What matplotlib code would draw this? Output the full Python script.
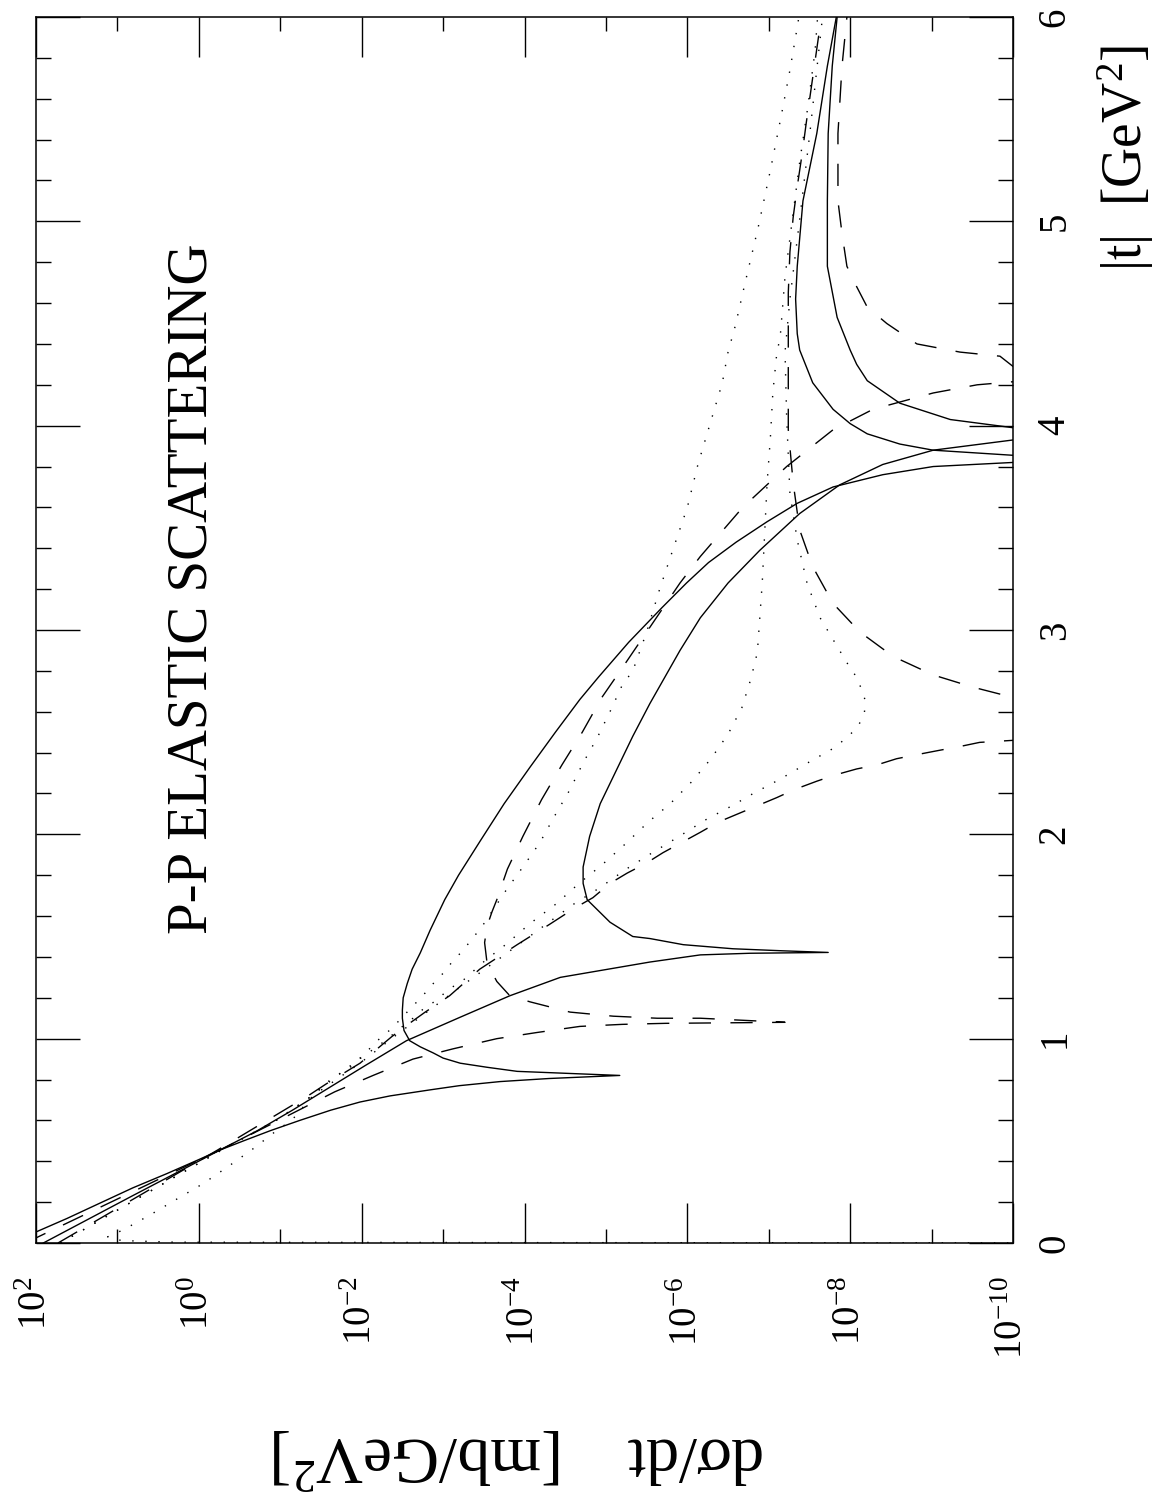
import matplotlib
matplotlib.use("Agg")
import matplotlib.pyplot as plt
import numpy as np
from matplotlib.ticker import FixedLocator, FixedFormatter

plt.rcParams['font.family'] = ['Liberation Serif', 'DejaVu Serif']
plt.rcParams['mathtext.fontset'] = 'custom'
plt.rcParams['mathtext.rm'] = 'Liberation Serif'
plt.rcParams['mathtext.it'] = 'Liberation Serif:italic'
plt.rcParams['lines.scale_dashes'] = False

# curves: |t| [GeV^2] and log10(dsigma/dt [mb/GeV^2])
s1_t = [0.0, 0.054, 0.12, 0.196, 0.27, 0.34, 0.41, 0.455, 0.50, 0.55, 0.60, 0.65, 0.69, 0.72, 0.75, 0.77, 0.79, 0.805,
        0.82, 0.84, 0.86, 0.88, 0.905, 0.93, 0.96, 0.99, 1.04, 1.10, 1.14, 1.20, 1.27, 1.34, 1.42, 1.53, 1.68, 1.80,
        1.97, 2.15, 2.33, 2.50, 2.66, 2.77, 2.94, 3.11, 3.23, 3.33, 3.43, 3.53, 3.62, 3.70, 3.76, 3.80, 3.82, 3.835,
        3.845, 3.855, 3.88, 3.91, 3.96, 4.01, 4.08, 4.21, 4.37, 4.45, 4.62, 4.78, 5.10, 5.43, 5.76, 6.0]
s1_lg = [2.30, 2.0, 1.62, 1.21, 0.81, 0.39, -0.01, -0.26, -0.55, -0.88, -1.24, -1.62, -1.98, -2.35, -2.85, -3.20, -3.70,
         -4.30, -5.17, -3.91, -3.54, -3.21, -3.00, -2.88, -2.72, -2.59, -2.52, -2.50, -2.50, -2.51, -2.56, -2.62, -2.72,
         -2.84, -3.02, -3.19, -3.46, -3.75, -4.07, -4.38, -4.68, -4.91, -5.28, -5.69, -5.99, -6.26, -6.60, -6.98, -7.35,
         -7.79, -8.40, -9.02, -10.0, -11.5,
         -11.5, -10.0, -9.02, -8.61, -8.21, -8.00, -7.79, -7.54, -7.38, -7.35, -7.33, -7.35, -7.42, -7.59, -7.72, -7.83]

s2_t = [0.0, 0.23, 0.455, 0.55, 0.65, 0.76, 0.87, 0.99, 1.105, 1.21, 1.30, 1.375, 1.41, 1.418, 1.422,
        1.43, 1.44, 1.46, 1.49, 1.50, 1.57, 1.68, 1.76, 1.84, 1.99, 2.15, 2.48, 2.64, 2.90, 3.06, 3.23, 3.39, 3.57,
        3.71, 3.81, 3.88, 3.93, 3.95,
        3.97, 3.99, 4.03, 4.11, 4.22, 4.30, 4.37, 4.53, 4.78, 5.10, 5.43, 5.76, 6.0]
s2_lg = [1.91, 0.82, -0.26, -0.72, -1.15, -1.60, -2.05, -2.55, -3.21, -3.82, -4.44, -5.54, -6.16, -6.77, -7.73,
         -7.17, -6.56, -5.95, -5.54, -5.33, -5.05, -4.77, -4.72, -4.72, -4.80, -4.93, -5.33, -5.54, -5.91, -6.16, -6.50,
         -6.89, -7.38, -7.87, -8.40, -9.02, -10.0, -11.5,
         -11.5, -10.0, -9.23, -8.61, -8.21, -8.08, -8.00, -7.84, -7.72, -7.72, -7.73, -7.78, -7.84]

d1_t = [0.0, 0.455, 0.72, 0.78, 0.88, 1.01, 1.07, 1.13, 1.21, 1.34, 1.46, 1.56, 1.64, 1.69, 1.76, 1.81, 1.86, 1.91,
        1.96, 2.01, 2.06, 2.10, 2.14, 2.18, 2.22, 2.26, 2.29, 2.32, 2.34, 2.37, 2.39, 2.41, 2.43, 2.45, 2.46, 2.50,
        2.62, 2.67, 2.72, 2.78, 2.87, 2.99, 3.13, 3.31, 3.49, 3.72, 3.98, 4.37, 4.65, 4.85, 5.02, 5.17, 5.33, 5.48,
        5.62, 5.76, 5.90, 6.0]
d1_lg = [1.73, -0.23, -1.34, -1.57, -1.98, -2.37, -2.57, -2.78, -3.08, -3.45, -3.91, -4.31, -4.62, -4.84, -5.05, -5.26,
         -5.50, -5.70, -5.93, -6.16, -6.38, -6.62, -6.86, -7.10, -7.32, -7.59, -7.81, -8.08, -8.33, -8.57, -8.82, -9.08,
         -9.35, -9.59, -10.0, -11.5, -11.5, -10.0, -9.51, -9.02, -8.53, -8.12, -7.79, -7.54, -7.38, -7.30, -7.24, -7.24,
         -7.24, -7.26, -7.30, -7.35, -7.41, -7.46, -7.51, -7.56, -7.61, -7.66]

d2_t = [0.0, 0.025, 0.455, 0.60, 0.74, 0.82, 0.90, 0.95, 1.00, 1.03, 1.06, 1.07, 1.075, 1.08, 1.10, 1.10, 1.11, 1.13,
        1.18, 1.21, 1.28, 1.37, 1.47, 1.55, 1.62, 1.68, 1.83, 1.99, 2.17, 2.34, 2.50, 2.67, 2.82, 2.99, 3.23, 3.36,
        3.60, 3.80, 3.98, 4.08, 4.16, 4.20, 4.215, 4.24, 4.27, 4.29, 4.34, 4.36, 4.40, 4.50, 4.58, 4.68, 4.78, 4.94,
        5.10, 5.43, 5.76, 6.0]
d2_lg = [2.13, 2.0, -0.26, -0.98, -1.67, -2.14, -2.63, -3.12, -3.66, -4.15, -4.68, -5.20, -5.73, -7.20, -6.16, -5.63,
         -5.09, -4.56, -4.07, -3.82, -3.66, -3.54, -3.51, -3.54, -3.60, -3.66, -3.79, -3.98, -4.21, -4.46, -4.71, -4.95,
         -5.21, -5.50, -5.91, -6.16, -6.68, -7.22, -7.79, -8.28, -9.02, -9.56, -10.0, -11.5, -11.5, -10.0, -9.84, -9.35,
         -8.82, -8.45, -8.21, -8.08, -7.96, -7.90, -7.85, -7.85, -7.90, -7.96]

dta_t = [0.0, 0.455, 0.60, 0.72, 0.78, 0.82, 0.86, 0.92, 1.00, 1.05, 1.11, 1.16, 1.21, 1.27, 1.32, 1.38, 1.43, 1.49,
         1.55, 1.61, 1.73, 1.84, 1.96, 2.09, 2.22, 2.35, 2.47, 2.60, 2.73, 2.80, 2.99, 3.20, 3.39, 3.60, 3.81, 4.01,
         4.21, 4.36, 4.49, 4.70, 4.97, 5.25, 5.53, 5.74, 5.95, 6.0]
dta_lg = [1.70, -0.28, -0.95, -1.39, -1.55, -1.70, -1.86, -2.02, -2.22, -2.37, -2.51, -2.63, -2.75, -2.88, -3.00, -3.12,
          -3.24, -3.36, -3.48, -3.58, -3.78, -3.98, -4.19, -4.37, -4.56, -4.72, -4.89, -5.05, -5.20, -5.33, -5.50, -5.66,
          -5.82, -6.00, -6.13, -6.28, -6.43, -6.50, -6.59, -6.71, -6.87, -7.02, -7.16, -7.26, -7.35, -7.37]

dtb_t = [0.0, 0.455, 0.60, 0.72, 0.82, 0.92, 0.96, 1.01, 1.05, 1.10, 1.15, 1.19, 1.24, 1.28, 1.33, 1.38, 1.43, 1.47,
         1.52, 1.57, 1.66, 1.76, 1.85, 1.95, 2.06, 2.15, 2.26, 2.37, 2.49, 2.62, 2.76, 2.89, 3.23, 3.72, 3.94, 4.16,
         4.36, 4.43, 4.73, 5.01, 5.29, 5.56, 5.84, 6.0]
dtb_lg = [1.70, -0.28, -0.95, -1.39, -1.70, -2.04, -2.19, -2.35, -2.47, -2.63, -2.77, -2.93, -3.06, -3.23, -3.37, -3.51,
          -3.67, -3.80, -3.94, -4.09, -4.39, -4.67, -4.95, -5.23, -5.52, -5.79, -6.06, -6.29, -6.50, -6.67, -6.78, -6.86,
          -6.92, -6.98, -7.02, -7.05, -7.10, -7.14, -7.20, -7.29, -7.38, -7.48, -7.57, -7.60]

dtc_t = [0.0, 0.002, 0.004, 0.012, 0.03, 0.064, 0.137, 0.215, 0.29, 0.377, 0.465, 0.558, 0.60, 0.72, 0.88, 1.01, 1.13,
         1.25, 1.40, 1.57, 1.66, 1.74, 1.83, 1.91, 1.99, 2.07, 2.14, 2.20, 2.27, 2.35, 2.42, 2.47, 2.52, 2.58, 2.65,
         2.72, 2.78, 2.84, 2.90, 3.06, 3.23, 3.44, 3.67, 4.04, 4.36, 4.62, 5.01, 5.45, 5.89, 6.0]
dtc_lg = [-12.0, -4.0, 0.3, 0.95, 1.12, 0.93, 0.60, 0.27, -0.05, -0.37, -0.68, -0.98, -1.14, -1.40, -1.98, -2.40, -2.80,
          -3.20, -3.72, -4.30, -4.61, -4.93, -5.25, -5.57, -5.90, -6.22, -6.55, -6.81, -7.14, -7.48, -7.79, -7.95, -8.08,
          -8.17, -8.19, -8.13, -8.06, -7.96, -7.87, -7.63, -7.47, -7.35, -7.26, -7.22, -7.20, -7.26, -7.38, -7.51, -7.63,
          -7.66]

sig_ticks = [2, 0, -2, -4, -6, -8, -10]
t_ticks = [0, 1, 2, 3, 4, 5, 6]

SOLID = '-'
DASHED = (0, (16, 14))
DOTTED = (0, (1.0, 8.4))

curves = [
    (s1_t, s1_lg, SOLID), (s2_t, s2_lg, SOLID),
    (d1_t, d1_lg, DASHED), (d2_t, d2_lg, DASHED),
    (dta_t, dta_lg, DOTTED), (dtb_t, dtb_lg, DOTTED), (dtc_t, dtc_lg, DOTTED),
]

W, H = 1164, 1502
fig = plt.figure(figsize=(W / 100, H / 100), dpi=100)
ax = fig.add_axes([36 / W, 1 - 1243 / H, (1013 - 36) / W, (1243 - 17) / H])

for t, lg, ls in curves:
    ax.plot(10.0 ** np.array(lg), t, color='black', lw=1.0, linestyle=ls)

ax.set_xscale('log')
ax.set_xlim(1e2, 1e-10)
ax.set_ylim(0, 6)

ax.xaxis.set_major_locator(FixedLocator([10.0 ** k for k in sig_ticks]))
ax.xaxis.set_minor_locator(FixedLocator([10.0 ** (k - 1) for k in sig_ticks[:-1]]))
ax.xaxis.set_major_formatter(FixedFormatter(['$10^{%d}$' % k for k in sig_ticks]))
ax.xaxis.set_minor_formatter(FixedFormatter([]))
ax.yaxis.set_major_locator(FixedLocator(t_ticks))
ax.yaxis.set_minor_locator(FixedLocator(np.arange(0, 6.01, 0.2)))
ax.yaxis.set_major_formatter(FixedFormatter([str(v) for v in t_ticks]))

ax.tick_params(axis='x', which='major', direction='in', length=28.8, width=1.0,
               top=True, bottom=True, labelsize=28, pad=24, labelrotation=90)
ax.tick_params(axis='x', which='minor', direction='in', length=10, width=1.0, top=True, bottom=True)
ax.tick_params(axis='y', which='major', direction='in', length=31.7, width=1.0, left=True, right=True,
               labelleft=False, labelright=True, labelsize=28, pad=17, labelrotation=90)
ax.tick_params(axis='y', which='minor', direction='in', length=10.8, width=1.0, left=True, right=True)
for lbl in ax.get_yticklabels():
    lbl.set_va('center')

for sp in ax.spines.values():
    sp.set_linewidth(1.1)

ax.text(1.2, 3.2, 'P-P ELASTIC SCATTERING', rotation=90, ha='center', va='center', fontsize=41)

fig.text(1126 / W, 1 - 45 / H, '|t|  [GeV$^2$]', rotation=90, ha='center', va='top', fontsize=40)
fig.text(273 / W, 1 - 1457 / H, 'd\u03c3/dt    [mb/GeV$^2$]', rotation=180, ha='left', va='center', fontsize=47)

fig.savefig('out.png', dpi=100)
